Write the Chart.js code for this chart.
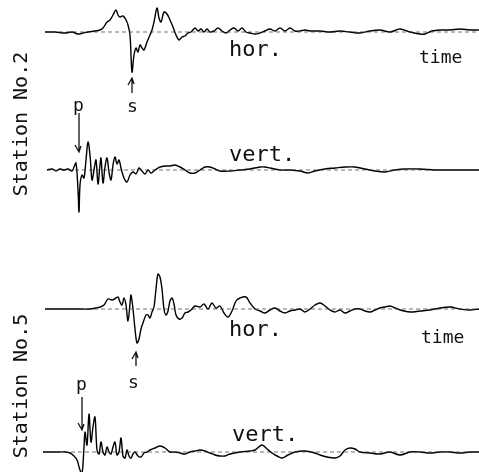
<!DOCTYPE html>
<html>
<head>
<meta charset="utf-8">
<script src="https://cdn.jsdelivr.net/npm/chart.js@4.4.1/dist/chart.umd.min.js"></script>
<style>
html, body { margin: 0; padding: 0; background: #fff; }
#wrap { position: relative; width: 479px; height: 472px; overflow: hidden; }
#wrap span { position: absolute; font-family: "DejaVu Sans Mono", monospace; color: #111; line-height: 1; white-space: nowrap; }
.big { font-size: 22px; }
.small { font-size: 18px; }
.station { font-size: 20px; transform: translate(-50%, -50%) rotate(-90deg); }
</style>
</head>
<body>
<div id="wrap">
  <canvas id="seis" width="479" height="472"></canvas>
  <span class="station" style="left:20px;top:124px">Station No.2</span>
  <span class="big" style="left:229px;top:38px">hor.</span>
  <span class="small" style="left:419px;top:48px">time</span>
  <span class="small" style="left:73px;top:96px">p</span>
  <span class="small" style="left:127px;top:97px">s</span>
  <span class="big" style="left:229px;top:143px">vert.</span>
  <span class="station" style="left:20px;top:386px">Station No.5</span>
  <span class="big" style="left:229px;top:318px">hor.</span>
  <span class="small" style="left:421px;top:328px">time</span>
  <span class="small" style="left:76px;top:375px">p</span>
  <span class="small" style="left:128px;top:373px">s</span>
  <span class="big" style="left:232px;top:423px">vert.</span>
</div>
<script>
// station 2, horizontal component
const st2HorT = [45,55,65,72,78,83,88,95,100,103,107,110,113,116,118,120,123,126,128,130,132,134,136,138,140,142,144,147,150,152,154,157,159,161,164,167,170,173,176,179,182,185,188,191,195,198,201,204,207,210,214,218,222,226,230,234,238,242,246,250,255,260,265,270,275,280,285,290,295,300,305,310,320,330,340,350,360,370,380,390,400,410,420,425,432,440,450,460,470,479];
const st2HorA = [0,0,-1,0,-2,-1,0,1,2,4,10,12,17,22,17,15,16,12,7,-3,-40,-23,-16,-20,-13,-16,-18,-10,-3,2,10,24,14,10,20,18,12,5,-3,-8,-5,-4,-1,0,4,1,3,0,3,0,1,4,1,-1,2,4,1,4,0,-1,-2,-1,1,3,1,4,1,4,1,1,2,1,1,0,1,0,-1,1,2,0,3,0,-2,-2,1,2,2,3,2,2];

// station 2, vertical component
const st2VertT = [47,52,56,60,64,68,72,74,76,78,79,80,82,84,86,88,90,92,94,96,98,100,101,103,105,107,109,111,113,115,117,119,121,124,127,130,133,136,139,142,145,148,151,155,160,165,170,175,180,185,190,195,200,205,210,215,220,230,240,250,260,265,270,280,290,300,308,315,325,335,345,355,365,375,385,395,405,420,435,450,465,479];
const st2VertA = [0,1,-1,1,0,1,-1,3,7,-20,-42,-15,-5,-8,10,28,15,-10,0,10,-14,5,12,-13,3,12,-2,-10,5,13,6,10,2,-8,-12,-5,-2,-4,2,-1,-4,0,-3,0,3,4,4,5,3,0,-3,-3,0,3,3,1,-1,-1,0,1,3,3,2,0,0,-1,-3,-1,1,2,3,3,1,-1,-2,0,1,1,0,0,0,0];

// station 5, horizontal component
const st5HorT = [45,60,75,90,96,100,104,108,112,116,118,120,122,124,126,128,130,131,133,135,137,139,141,143,146,148,150,152,154,156,158,160,162,164,166,168,170,172,174,176,179,182,185,188,191,195,200,204,208,212,216,220,224,228,232,236,240,246,250,255,260,265,270,275,280,285,290,295,300,305,310,315,320,325,330,335,340,345,350,355,360,365,370,375,380,385,390,395,400,410,420,430,440,450,460,470,479];
const st5HorA = [0,0,0,0,1,2,4,10,9,11,12,7,4,11,4,-12,5,14,0,-20,-34,-30,-20,-14,-6,-6,-9,-3,2,20,35,32,20,0,-6,-2,8,11,5,-6,-10,-9,-4,-3,-1,3,2,5,0,6,1,3,-4,-8,-2,8,11,12,6,0,-2,-4,-1,1,-2,-4,-2,-1,0,-3,0,4,6,3,-1,-3,-1,-4,-2,0,0,-2,-3,-1,1,2,3,1,-1,-3,-2,-1,1,2,0,-1,0];

// station 5, vertical component
const st5VertT = [43,55,65,70,74,77,80,82,84,85,87,89,91,93,95,97,99,101,103,105,107,109,111,113,115,117,119,121,123,125,127,129,131,133,135,138,141,144,147,150,155,160,165,170,175,180,185,190,195,200,205,210,215,220,225,230,240,250,255,262,267,272,277,282,288,295,305,315,320,327,335,340,345,350,355,360,370,380,390,400,410,420,430,440,450,460,470,479];
const st5VertA = [0,0,0,-1,-4,-8,-18,-22,5,20,7,38,10,25,35,2,-2,10,0,-3,5,0,-2,5,10,-3,0,14,-4,-6,2,-4,-6,-2,0,-4,-5,-1,0,2,4,6,4,0,0,-1,-2,0,1,2,1,-1,-3,-4,-4,-2,0,1,2,7,3,-1,-4,-6,-3,0,1,-1,-3,-5,-6,-4,2,4,3,0,-1,-2,0,-3,0,0,-1,0,0,-1,0,0];

// arrows marking the p and s onsets: [axis, time, tail amplitude, tip amplitude]
const arrows = [
  ['y2h', 132, -61, -46],
  ['y2v', 79, 57, 18],
  ['y5h', 136, -57, -43],
  ['y5v', 82, 55, 22]
];

// trace baselines in px from top, used for the y scales
const baselines = { y2h: 32, y2v: 170, y5h: 309, y5v: 452 };
const H = 472;

function toPoints(t, a) {
  return t.map(function (v, i) { return { x: v, y: a[i] }; });
}

function trace(t, a, axis) {
  return {
    data: toPoints(t, a),
    yAxisID: axis,
    borderColor: '#000',
    borderWidth: 1.4,
    pointRadius: 0,
    tension: 0.35,
    fill: false
  };
}

function zeroLine(t, axis) {
  return {
    data: [{ x: t[0], y: 0 }, { x: t[t.length - 1], y: 0 }],
    yAxisID: axis,
    borderColor: '#333',
    borderWidth: 0.7,
    borderDash: [4, 3],
    pointRadius: 0,
    fill: false
  };
}

function yScale(axis) {
  return { type: 'linear', display: false, min: baselines[axis] - H, max: baselines[axis] };
}

const arrowPlugin = {
  id: 'arrows',
  afterDatasetsDraw: function (chart) {
    const ctx = chart.ctx;
    const xs = chart.scales.x;
    ctx.save();
    ctx.strokeStyle = '#111';
    ctx.lineWidth = 1.3;
    arrows.forEach(function (ar) {
      const ys = chart.scales[ar[0]];
      const x = xs.getPixelForValue(ar[1]);
      const y0 = ys.getPixelForValue(ar[2]);
      const y1 = ys.getPixelForValue(ar[3]);
      const dir = y1 > y0 ? 1 : -1;
      ctx.beginPath();
      ctx.moveTo(x, y0);
      ctx.lineTo(x, y1);
      ctx.moveTo(x - 4, y1 - dir * 7);
      ctx.lineTo(x, y1);
      ctx.lineTo(x + 2, y1 - dir * 6);
      ctx.stroke();
    });
    ctx.restore();
  }
};

new Chart(document.getElementById('seis'), {
  type: 'line',
  data: {
    datasets: [
      zeroLine(st2HorT, 'y2h'),
      zeroLine(st2VertT, 'y2v'),
      zeroLine(st5HorT, 'y5h'),
      zeroLine(st5VertT, 'y5v'),
      trace(st2HorT, st2HorA, 'y2h'),
      trace(st2VertT, st2VertA, 'y2v'),
      trace(st5HorT, st5HorA, 'y5h'),
      trace(st5VertT, st5VertA, 'y5v')
    ]
  },
  options: {
    responsive: false,
    animation: false,
    layout: { padding: 0 },
    plugins: { legend: { display: false }, tooltip: { enabled: false }, title: { display: false } },
    scales: {
      x: { type: 'linear', display: false, min: 0, max: 479 },
      y2h: yScale('y2h'),
      y2v: yScale('y2v'),
      y5h: yScale('y5h'),
      y5v: yScale('y5v')
    }
  },
  plugins: [arrowPlugin]
});
</script>
</body>
</html>
